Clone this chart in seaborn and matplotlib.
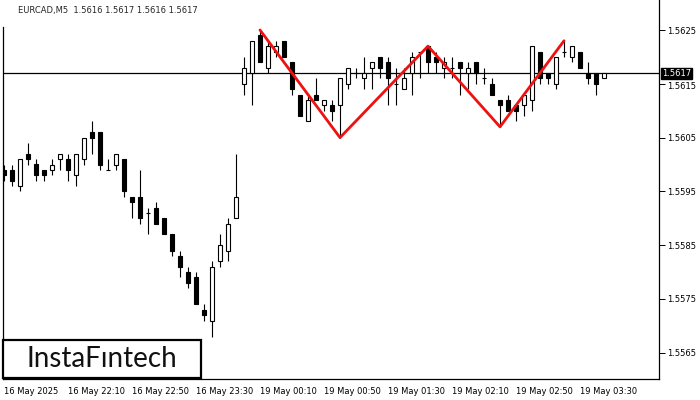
import numpy as np
import matplotlib
matplotlib.use("Agg")
import matplotlib.pyplot as plt
import matplotlib.transforms as mtransforms
from matplotlib.patches import Rectangle
import seaborn as sns

# ==============================
# DATA (EURCAD M5)
# ==============================
opens = [1.5599, 1.5599, 1.5596, 1.5602, 1.5600, 1.5599, 1.5599, 1.5601, 1.5601, 1.5598,
         1.5601, 1.5606, 1.5606, 1.5599, 1.5600, 1.5601, 1.5594, 1.5594, 1.5591, 1.5592,
         1.5590, 1.5587, 1.5583, 1.5580, 1.5579, 1.5573, 1.5571, 1.5582, 1.5584, 1.5590,
         1.5615, 1.5617, 1.5624, 1.5618, 1.5621, 1.5623, 1.5619, 1.5613, 1.5608, 1.5613,
         1.5611, 1.5611, 1.5611, 1.5615, 1.5617, 1.5616, 1.5618, 1.5620, 1.5619, 1.5615,
         1.5614, 1.5617, 1.5621, 1.5622, 1.5620, 1.5618, 1.5618, 1.5619, 1.5617, 1.5619,
         1.5616, 1.5615, 1.5612, 1.5612, 1.5611, 1.5611, 1.5612, 1.5621, 1.5617, 1.5615,
         1.5621, 1.5620, 1.5621, 1.5617, 1.5617, 1.5616]
highs = [1.5600, 1.5600, 1.5601, 1.5604, 1.5601, 1.5599, 1.5601, 1.5602, 1.5602, 1.5602,
         1.5605, 1.5608, 1.5606, 1.5601, 1.5602, 1.5601, 1.5594, 1.5599, 1.5592, 1.5593,
         1.5590, 1.5587, 1.5584, 1.5581, 1.5580, 1.5574, 1.5582, 1.5587, 1.5590, 1.5602,
         1.5620, 1.5623, 1.5625, 1.5623, 1.5623, 1.5623, 1.5619, 1.5613, 1.5613, 1.5616,
         1.5612, 1.5612, 1.5616, 1.5618, 1.5618, 1.5620, 1.5619, 1.5620, 1.5620, 1.5618,
         1.5618, 1.5621, 1.5621, 1.5622, 1.5621, 1.5620, 1.5620, 1.5619, 1.5619, 1.5619,
         1.5618, 1.5616, 1.5612, 1.5613, 1.5611, 1.5613, 1.5622, 1.5621, 1.5617, 1.5620,
         1.5623, 1.5622, 1.5621, 1.5619, 1.5617, 1.5617]
lows = [1.5597, 1.5596, 1.5595, 1.5600, 1.5597, 1.5597, 1.5598, 1.5599, 1.5597, 1.5596,
        1.5600, 1.5602, 1.5599, 1.5599, 1.5599, 1.5594, 1.5590, 1.5589, 1.5587, 1.5589,
        1.5587, 1.5583, 1.5579, 1.5577, 1.5574, 1.5571, 1.5568, 1.5581, 1.5582, 1.5590,
        1.5613, 1.5611, 1.5619, 1.5617, 1.5620, 1.5620, 1.5613, 1.5609, 1.5608, 1.5612,
        1.5610, 1.5608, 1.5605, 1.5614, 1.5616, 1.5614, 1.5614, 1.5616, 1.5611, 1.5611,
        1.5614, 1.5613, 1.5616, 1.5617, 1.5617, 1.5616, 1.5616, 1.5613, 1.5614, 1.5615,
        1.5615, 1.5613, 1.5607, 1.5610, 1.5608, 1.5609, 1.5610, 1.5615, 1.5615, 1.5614,
        1.5620, 1.5619, 1.5618, 1.5615, 1.5613, 1.5616]
closes = [1.5598, 1.5597, 1.5601, 1.5601, 1.5598, 1.5598, 1.5600, 1.5602, 1.5599, 1.5602,
          1.5605, 1.5605, 1.5600, 1.5599, 1.5602, 1.5595, 1.5593, 1.5590, 1.5591, 1.5589,
          1.5587, 1.5584, 1.5581, 1.5578, 1.5574, 1.5572, 1.5581, 1.5585, 1.5589, 1.5594,
          1.5618, 1.5623, 1.5619, 1.5622, 1.5622, 1.5620, 1.5614, 1.5609, 1.5612, 1.5612,
          1.5612, 1.5610, 1.5616, 1.5618, 1.5617, 1.5617, 1.5619, 1.5618, 1.5616, 1.5615,
          1.5616, 1.5620, 1.5621, 1.5619, 1.5619, 1.5619, 1.5618, 1.5618, 1.5618, 1.5617,
          1.5616, 1.5613, 1.5611, 1.5610, 1.5610, 1.5613, 1.5622, 1.5616, 1.5616, 1.5620,
          1.5621, 1.5622, 1.5618, 1.5616, 1.5615, 1.5617]

tick_bars = [0, 8, 16, 24, 32, 40, 48, 56, 64, 72]
tick_labels = ["16 May 2025", "16 May 22:10", "16 May 22:50", "16 May 23:30",
               "19 May 00:10", "19 May 00:50", "19 May 01:30", "19 May 02:10",
               "19 May 02:50", "19 May 03:30"]
price_ticks = [1.5565, 1.5575, 1.5585, 1.5595, 1.5605, 1.5615, 1.5625]

# triple top: peak / trough / peak / trough / peak
pattern_bars = [32, 42, 53, 62, 70]
pattern_kind = ["high", "low", "high", "low", "high"]

title = "EURCAD,M5  1.5616 1.5617 1.5616 1.5617"

# ==============================
# STYLE
# ==============================
sns.set_style("white")
plt.rcParams["font.family"] = ["DejaVu Sans"]

W, H = 700, 400
fig = plt.figure(figsize=(7, 4), dpi=100)
ax = fig.add_axes([3 / W, (H - 379) / H, 656 / W, 379 / H])

px_per_unit = 53800.0  # pixels per 1.0 of price
y_top = 1.5625 + 30 / px_per_unit
y_bot = 1.5625 - 349 / px_per_unit

o = np.array(opens)
h = np.array(highs)
l = np.array(lows)
c = np.array(closes)
x = np.arange(len(o))

# wicks
ax.vlines(x, l, h, color="black", lw=0.8, zorder=2)

# bodies
up = c >= o
body_w = 0.6
ax.bar(x[up], (c - o)[up], bottom=o[up], width=body_w,
       facecolor="white", edgecolor="black", lw=0.8, zorder=3)
ax.bar(x[~up], (o - c)[~up], bottom=c[~up], width=body_w,
       facecolor="black", edgecolor="black", lw=0.8, zorder=3)

# current price line
ax.axhline(c[-1], color="black", lw=0.9, zorder=1)

# pattern line
pat_y = [h[i] if k == "high" else l[i] for i, k in zip(pattern_bars, pattern_kind)]
sns.lineplot(x=pattern_bars, y=pat_y, color="#ee1111", lw=2.0, ax=ax, zorder=4)

ax.set_xlim(-0.125, 81.875)
ax.set_ylim(y_bot, y_top)

# axes / ticks
ax.set_xticks(tick_bars)
ax.set_xticklabels(tick_labels, fontsize=6, ha="left")
ax.yaxis.tick_right()
ax.set_yticks(price_ticks)
ax.set_yticklabels([f"{v:.4f}" for v in price_ticks], fontsize=6)
ax.tick_params(axis="x", direction="out", length=4, width=0.7, pad=2, colors="black")
ax.tick_params(axis="y", direction="out", length=4, width=0.7, pad=1.5, colors="black")

# label right under the price tag sits a touch lower, like the terminal does
nudge = mtransforms.ScaledTranslation(0, -2 / 100, fig.dpi_scale_trans)
for lab in ax.get_yticklabels():
    if lab.get_text() == f"{price_ticks[5]:.4f}":
        lab.set_transform(lab.get_transform() + nudge)

ax.spines["top"].set_visible(False)
for s in ["left", "right", "bottom"]:
    ax.spines[s].set_color("black")
    ax.spines[s].set_linewidth(0.9)
ax.spines["left"].set_bounds(y_bot, 1.5625 + 3 / px_per_unit)
ax.set_xlabel("")
ax.set_ylabel("")
if ax.get_legend():
    ax.get_legend().remove()

# last price tag
trans = mtransforms.blended_transform_factory(ax.transAxes, ax.transData)
ax.text(1.004, c[-1], f"{c[-1]:.4f}", transform=trans, fontsize=6, color="white",
        va="center", ha="left", clip_on=False, zorder=6,
        bbox=dict(boxstyle="square,pad=0.12", fc="black", ec="black"))

# title
fig.text(18 / W, 1 - 11 / H, title, fontsize=6, va="center", ha="left")

# watermark box
fig.patches.append(Rectangle((3 / W, (H - 378) / H), 198 / W, 38 / H,
                             transform=fig.transFigure, facecolor="white",
                             edgecolor="black", lw=1.6, zorder=5))
fig.text(102 / W, 1 - 359 / H, "InstaFıntech", fontsize=20, family=["Lato", "DejaVu Sans"],
         weight="normal", color="#111111", ha="center", va="center", zorder=6)

fig.savefig("out.png", dpi=100)
